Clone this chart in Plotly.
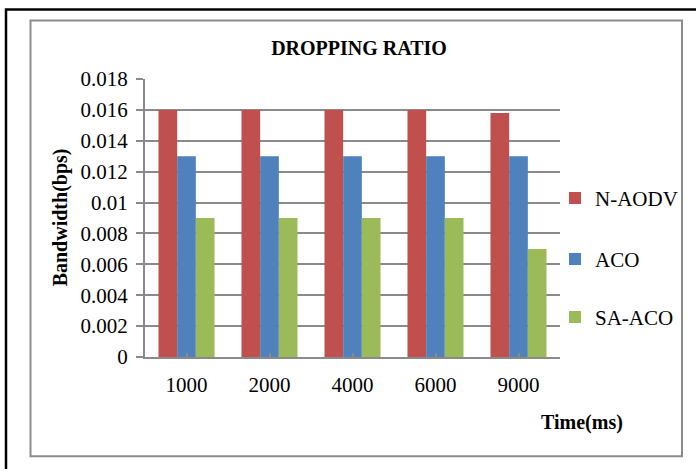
import plotly.graph_objects as go

# Dropping ratio per simulation time, for each routing protocol
times = ["1000", "2000", "4000", "6000", "9000"]
n_aodv = [0.016, 0.016, 0.016, 0.016, 0.0158]
aco = [0.013, 0.013, 0.013, 0.013, 0.013]
sa_aco = [0.009, 0.009, 0.009, 0.009, 0.007]

series_names = ["N-AODV", "ACO", "SA-ACO"]
series_values = [n_aodv, aco, sa_aco]
series_colors = ["#C0504D", "#4F81BD", "#9BBB59"]

W, H = 696, 469
L, R, T, B = 145, 136, 78.6, 112.3
pw, ph = W - L - R, H - T - B
SERIF = "Times New Roman, Liberation Serif, serif"
GRID = "#8a8a8a"


def px_x(p):
    return (p - L) / pw


def px_y(p):
    return (H - B - p) / ph


fig = go.Figure()
legend_rows = [198, 259, 317]
for i, (name, vals, col) in enumerate(zip(series_names, series_values, series_colors)):
    lg = "legend" if i == 0 else f"legend{i + 1}"
    fig.add_trace(go.Bar(x=times, y=vals, name=name, marker_color=col,
                         marker_line_width=0, legend=lg))

legend_common = dict(x=px_x(555), xanchor="left", yanchor="middle",
                     font=dict(family=SERIF, size=21, color="#000"),
                     bgcolor="rgba(0,0,0,0)", itemwidth=30)
legends = {}
for i, row in enumerate(legend_rows):
    key = "legend" if i == 0 else f"legend{i + 1}"
    legends[key] = dict(legend_common, y=px_y(row))

fig.update_layout(
    width=W, height=H,
    margin=dict(l=L, r=R, t=T, b=B),
    paper_bgcolor="white", plot_bgcolor="white",
    barmode="group", bargap=0.325, bargroupgap=0,
    showlegend=True,
    font=dict(family=SERIF, size=21, color="#000"),
    title=dict(text="<b>DROPPING RATIO</b>", x=359 / W, xanchor="center",
               y=1 - 48 / H, yanchor="middle", yref="container",
               font=dict(family=SERIF, size=20, color="#000")),
    xaxis=dict(showline=True, linecolor=GRID, linewidth=2,
               ticks="inside", ticklen=4, tickcolor=GRID, tickwidth=2,
               ticklabelstandoff=8,
               tickfont=dict(family=SERIF, size=21, color="#000")),
    yaxis=dict(range=[0, 0.018], dtick=0.002, tickformat="~g",
               showgrid=True, gridcolor=GRID, gridwidth=2,
               showline=True, linecolor=GRID, linewidth=2,
               ticks="outside", ticklen=7, tickcolor=GRID, tickwidth=2,
               zeroline=False, ticklabelstandoff=4,
               tickfont=dict(family=SERIF, size=21, color="#000")),
    **legends,
)

# Axis titles
fig.add_annotation(text="<b>Bandwidth(bps)</b>", textangle=-90,
                   x=px_x(60), y=px_y(217), xref="paper", yref="paper",
                   xanchor="center", yanchor="middle",
                   showarrow=False, font=dict(family=SERIF, size=20, color="#000"))
fig.add_annotation(text="<b>Time(ms)</b>",
                   x=px_x(582), y=px_y(422), xref="paper", yref="paper",
                   xanchor="center", yanchor="middle",
                   showarrow=False, font=dict(family=SERIF, size=20, color="#000"))

# Chart frame: outer black border and inner gray chart-area border
fig.add_shape(type="rect", xref="paper", yref="paper",
              x0=px_x(6), x1=px_x(720), y0=px_y(9), y1=px_y(490),
              line=dict(color="#000", width=2.5), layer="below")
fig.add_shape(type="rect", xref="paper", yref="paper",
              x0=px_x(30.5), x1=px_x(682), y0=px_y(20), y1=px_y(456),
              line=dict(color="#8c8c8c", width=2), layer="below")

fig.write_html("out.html")
